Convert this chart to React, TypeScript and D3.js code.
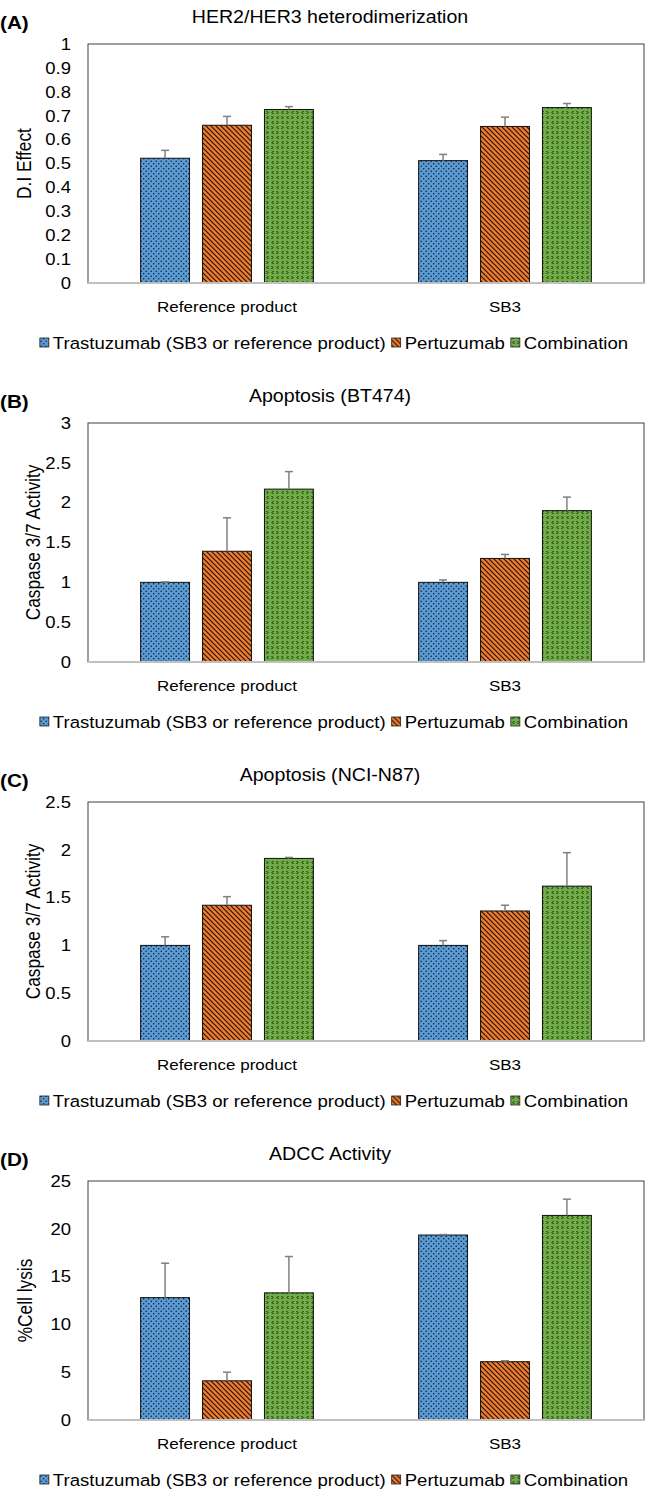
import React, { useEffect, useRef } from 'react';
import * as d3 from 'd3';

const categories = ['Reference product', 'SB3'];
const seriesNames = ['Trastuzumab (SB3 or reference product)', 'Pertuzumab', 'Combination'];
const panelLetters = ['(A)', '(B)', '(C)', '(D)'];
const panelTitles = ['HER2/HER3 heterodimerization', 'Apoptosis (BT474)', 'Apoptosis (NCI-N87)', 'ADCC Activity'];
const yTitles = ['D.I Effect', 'Caspase 3/7 Activity', 'Caspase 3/7 Activity', '%Cell lysis'];

// [category][series] : Trastuzumab, Pertuzumab, Combination
const herMeans = [[0.522, 0.66, 0.726], [0.512, 0.655, 0.734]];
const herErrors = [[0.033, 0.037, 0.012], [0.026, 0.039, 0.017]];
const bt474Means = [[1.0, 1.39, 2.17], [1.0, 1.3, 1.9]];
const bt474Errors = [[0.005, 0.42, 0.22], [0.03, 0.05, 0.17]];
const n87Means = [[1.0, 1.42, 1.91], [1.0, 1.36, 1.62]];
const n87Errors = [[0.09, 0.09, 0.01], [0.05, 0.06, 0.35]];
const adccMeans = [[12.8, 4.1, 13.3], [19.35, 6.1, 21.4]];
const adccErrors = [[3.6, 0.9, 3.8], [0.05, 0.1, 1.7]];

const herTicks = [0, 0.1, 0.2, 0.3, 0.4, 0.5, 0.6, 0.7, 0.8, 0.9, 1];
const bt474Ticks = [0, 0.5, 1, 1.5, 2, 2.5, 3];
const n87Ticks = [0, 0.5, 1, 1.5, 2, 2.5];
const adccTicks = [0, 5, 10, 15, 20, 25];

const panels = [
  { means: herMeans, errors: herErrors, ticks: herTicks, yTitleX: 24 },
  { means: bt474Means, errors: bt474Errors, ticks: bt474Ticks, yTitleX: 33 },
  { means: n87Means, errors: n87Errors, ticks: n87Ticks, yTitleX: 33 },
  { means: adccMeans, errors: adccErrors, ticks: adccTicks, yTitleX: 25 },
];

const W = 646;
const H = 1491;
const FONT = '"Liberation Sans", Arial, sans-serif';
const SX = 1.12; // the source picture is a bit stretched sideways
const fills = ['url(#patBlue)', 'url(#patOrange)', 'url(#patGreen)'];

const App = () => {
  const svgRef = useRef<SVGSVGElement>(null);

  useEffect(() => {
    document.body.style.margin = '0';
    const svg = d3.select(svgRef.current);
    svg.selectAll('*').remove();

    const defs = svg.append('defs');
    const blue = defs.append('pattern').attr('id', 'patBlue').attr('patternUnits', 'userSpaceOnUse')
      .attr('width', 5).attr('height', 5);
    blue.append('rect').attr('width', 5).attr('height', 5).attr('fill', '#5b9bd5');
    blue.append('circle').attr('cx', 1.2).attr('cy', 1.2).attr('r', 0.75).attr('fill', '#0d1520');
    blue.append('circle').attr('cx', 3.7).attr('cy', 3.7).attr('r', 0.75).attr('fill', '#0d1520');

    const orange = defs.append('pattern').attr('id', 'patOrange').attr('patternUnits', 'userSpaceOnUse')
      .attr('width', 5).attr('height', 5);
    orange.append('rect').attr('width', 5).attr('height', 5).attr('fill', '#ed7d31');
    orange.append('path').attr('d', 'M-1,-1 L6,6 M-1,4 L1,6 M4,-1 L6,1')
      .attr('stroke', '#2a1204').attr('stroke-width', 1.2);

    const green = defs.append('pattern').attr('id', 'patGreen').attr('patternUnits', 'userSpaceOnUse')
      .attr('width', 10).attr('height', 10);
    green.append('rect').attr('width', 10).attr('height', 10).attr('fill', '#70ad47');
    green.append('path')
      .attr('d', 'M3.5,1 L2,2.5 L3.5,4 M6.5,1 L8,2.5 L6.5,4 M1.5,6 L3,7.5 L1.5,9 M8.5,6 L7,7.5 L8.5,9')
      .attr('fill', 'none').attr('stroke', '#111a0a').attr('stroke-width', 1);

    const txt = (g, x, y, s, size, anchor = 'middle', weight = 'normal') =>
      g.append('text')
        .attr('transform', `translate(${x},${y}) scale(${SX},1)`)
        .attr('text-anchor', anchor)
        .attr('font-family', FONT)
        .attr('font-size', size)
        .attr('font-weight', weight)
        .attr('fill', '#000')
        .text(s);

    const left = 88;
    const right = 644;
    const tops = [44, 423, 802, 1181];
    const plotH = 239;

    const x0 = d3.scaleBand().domain(categories).range([left, right]);
    const x1 = d3.scaleBand().domain(seriesNames).range([0, x0.bandwidth()])
      .paddingInner(0.21).paddingOuter(0.85);

    panels.forEach((p, pi) => {
      const top = tops[pi];
      const base = top + plotH;
      const g = svg.append('g');
      const y = d3.scaleLinear()
        .domain([0, p.ticks[p.ticks.length - 1]])
        .range([base, top]);

      txt(g, 0, top - 15, panelLetters[pi], 18.5, 'start', 'bold');
      txt(g, 330, top - 21, panelTitles[pi], 17.5);

      // plot frame
      g.append('rect').attr('x', left).attr('y', top).attr('width', right - left).attr('height', plotH)
        .attr('fill', 'none').attr('stroke', '#404040').attr('stroke-width', 1);

      // y ticks
      p.ticks.forEach(t => {
        txt(g, 71, y(t) + 5.8, String(t), 16.5, 'end');
      });
      g.append('text')
        .attr('transform', `translate(${p.yTitleX},${(top + base) / 2}) rotate(-90) scale(1,${SX})`)
        .attr('text-anchor', 'middle')
        .attr('dy', '0.35em')
        .attr('font-family', FONT)
        .attr('font-size', 17.3)
        .text(yTitles[pi]);

      // bars
      categories.forEach((c, ci) => {
        seriesNames.forEach((s, si) => {
          const v = p.means[ci][si];
          const e = p.errors[ci][si];
          const bx = x0(c) + x1(s);
          const bw = x1.bandwidth();
          g.append('rect')
            .attr('x', bx).attr('y', y(v))
            .attr('width', bw).attr('height', base - y(v))
            .attr('fill', fills[si])
            .attr('stroke', '#111').attr('stroke-width', 1);
          const cx = bx + bw / 2;
          g.append('line').attr('x1', cx).attr('x2', cx).attr('y1', y(v)).attr('y2', y(v + e))
            .attr('stroke', '#808080').attr('stroke-width', 1.5);
          g.append('line').attr('x1', cx - 4).attr('x2', cx + 4).attr('y1', y(v + e)).attr('y2', y(v + e))
            .attr('stroke', '#808080').attr('stroke-width', 1.5);
        });
        txt(g, x0(c) + x0.bandwidth() / 2, base + 29, c, 15.2);
      });

      // category axis
      g.append('line').attr('x1', left).attr('x2', right).attr('y1', base).attr('y2', base)
        .attr('stroke', '#c0c0c0').attr('stroke-width', 2);

      // legend
      const lg = g.append('g');
      const ly = base + 66;
      const items = seriesNames.map((s, si) => {
        const item = lg.append('g');
        item.append('rect').attr('x', 0).attr('y', ly - 11).attr('width', 9).attr('height', 9)
          .attr('fill', fills[si]).attr('stroke', '#222').attr('stroke-width', 0.8);
        const t = txt(item, 13, ly, s, 16.6, 'start');
        const w = 13 + (t.node() as SVGTextElement).getComputedTextLength() * SX;
        return { item, w };
      });
      const gap = 6;
      const total = d3.sum(items, d => d.w) + gap * (items.length - 1);
      let cx = 334 - total / 2;
      items.forEach(d => {
        d.item.attr('transform', `translate(${cx},0)`);
        cx += d.w + gap;
      });
    });
  }, []);

  return (
    <svg ref={svgRef} width={W} height={H} style={{ display: 'block', background: '#fff' }}></svg>
  );
};

export default App;
